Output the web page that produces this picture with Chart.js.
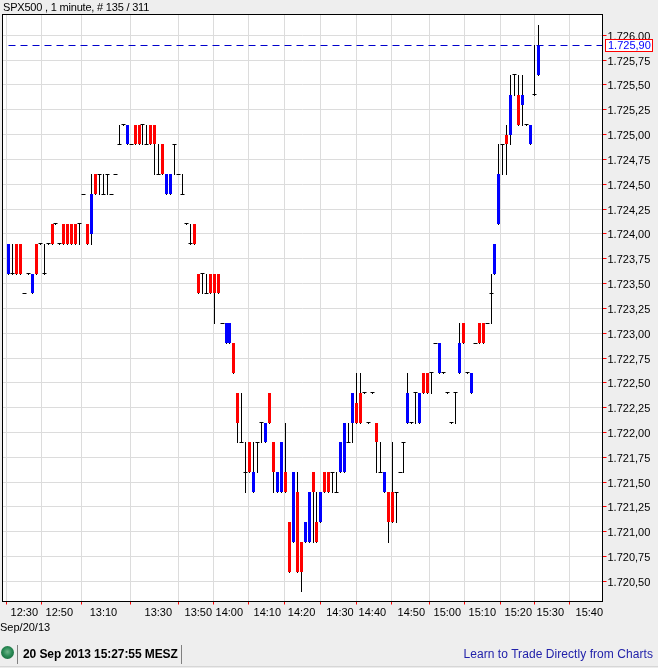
<!DOCTYPE html>
<html>
<head>
<meta charset="utf-8">
<script src="https://cdn.jsdelivr.net/npm/chart.js@4"></script>
<style>
    html, body { margin: 0; padding: 0; background: #eeeeee; }
    #wrap { position: relative; width: 658px; height: 668px; overflow: hidden; font-family: "Liberation Sans", Arial, sans-serif; color: #000; }
    canvas { position: absolute; left: 0; top: 0; }
    .txt { position: absolute; white-space: nowrap; font-size: 11px; line-height: 14px; }
    .sep { position: absolute; top: 645px; width: 1px; height: 19px; background: #808080; }
    #led { position: absolute; left: 1px; top: 646px; width: 13px; height: 13px; border-radius: 50%; background: radial-gradient(circle at 50% 45%, #6fb58a 0%, #2a8a55 45%, #0f5a30 100%); }
    #edge { position: absolute; left: 0; top: 666px; width: 658px; height: 2px; background: linear-gradient(#cccccc, #f6f6f6); }
</style>
</head>
<body>
<div id="wrap">
    <canvas id="myChart" width="658" height="668"></canvas>
    <div class="txt" style="left:3px;top:0px;letter-spacing:-0.2px">SPX500 , 1 minute, # 135 / 311</div>
    <div class="txt" style="left:0px;top:620px">Sep/20/13</div>
    <div id="led"></div>
    <div class="sep" style="left:17px"></div>
    <div class="txt" style="left:23px;top:647px;font-size:12px;font-weight:bold;letter-spacing:-0.08px">20 Sep 2013 15:27:55 MESZ</div>
    <div class="sep" style="left:181px"></div>
    <div class="txt" style="right:5px;top:647px;font-size:12px;color:#2222aa;letter-spacing:0.06px">Learn to Trade Directly from Charts</div>
    <div id="edge"></div>
</div>
<script>
const opens = [
    1723.6, 1723.6, 1723.9, 1723.9, 1723.4, 1723.6, 1723.4, 1723.9, 1723.9, 1723.6,
    1723.9, 1724.1, 1724.1, 1723.9, 1724.1, 1724.1, 1724.1, 1724.1, 1724.1, 1724.4,
    1724.1, 1724.0, 1724.6, 1724.6, 1724.4, 1724.6, 1724.4, 1724.6, 1724.9, 1725.1,
    1724.9, 1724.9, 1725.1, 1725.1, 1725.1, 1724.9, 1725.1, 1725.1, 1724.6, 1724.9,
    1724.4, 1724.4, 1724.9, 1724.6, 1724.4, 1724.1, 1723.9, 1724.1, 1723.6, 1723.6,
    1723.4, 1723.6, 1723.6, 1723.6, 1723.1, 1722.9, 1722.9, 1722.9, 1722.4, 1721.9,
    1721.6, 1721.9, 1721.4, 1721.9, 1722.1, 1721.9, 1722.4, 1721.9, 1721.4, 1721.4,
    1721.6, 1721.1, 1720.9, 1721.4, 1720.9, 1720.9, 1720.9, 1721.6, 1721.1, 1721.1,
    1721.6, 1721.6, 1721.6, 1721.4, 1721.6, 1721.6, 1721.9, 1722.1, 1722.3, 1722.4,
    1722.4, 1722.1, 1722.4, 1722.1, 1721.6, 1721.4, 1721.4, 1721.4, 1721.4, 1721.6,
    1721.9, 1722.1, 1722.1, 1722.4, 1722.1, 1722.6, 1722.6, 1722.6, 1722.9, 1722.6,
    1722.6, 1722.4, 1722.1, 1722.4, 1722.6, 1723.1, 1722.6, 1722.4, 1722.9, 1723.1,
    1723.1, 1723.1, 1723.4, 1723.6, 1724.1, 1724.9, 1725.0, 1725.0, 1725.6, 1725.4,
    1725.3, 1725.1, 1724.9, 1725.4, 1725.6
]
const highs = [
    1723.9, 1723.9, 1723.9, 1723.9, 1723.4, 1723.6, 1723.6, 1723.9, 1723.9, 1723.9,
    1723.9, 1724.1, 1724.1, 1723.9, 1724.1, 1724.1, 1724.1, 1724.1, 1724.1, 1724.4,
    1724.1, 1724.6, 1724.6, 1724.6, 1724.6, 1724.6, 1724.4, 1724.6, 1725.1, 1725.1,
    1725.1, 1724.9, 1725.1, 1725.1, 1725.1, 1725.1, 1725.1, 1725.1, 1724.9, 1724.9,
    1724.6, 1724.6, 1724.9, 1724.6, 1724.6, 1724.1, 1724.1, 1724.1, 1723.6, 1723.6,
    1723.6, 1723.6, 1723.6, 1723.6, 1723.1, 1723.1, 1723.1, 1722.9, 1722.4, 1722.4,
    1721.9, 1721.9, 1721.9, 1721.9, 1722.1, 1722.1, 1722.4, 1721.9, 1721.6, 1721.9,
    1722.1, 1721.1, 1721.6, 1721.6, 1720.9, 1721.1, 1721.4, 1721.6, 1721.4, 1721.4,
    1721.6, 1721.6, 1721.6, 1721.6, 1721.9, 1722.1, 1722.1, 1722.4, 1722.6, 1722.6,
    1722.4, 1722.1, 1722.4, 1722.1, 1721.9, 1721.6, 1721.4, 1721.9, 1721.4, 1721.6,
    1721.9, 1722.6, 1722.1, 1722.4, 1722.4, 1722.6, 1722.6, 1722.6, 1722.9, 1722.9,
    1722.6, 1722.4, 1722.1, 1722.4, 1723.1, 1723.1, 1722.6, 1722.6, 1722.9, 1723.1,
    1723.1, 1723.1, 1723.6, 1723.9, 1724.9, 1724.9, 1725.1, 1725.6, 1725.6, 1725.6,
    1725.6, 1725.1, 1725.1, 1725.9, 1726.1
]
const lows = [
    1723.6, 1723.6, 1723.6, 1723.6, 1723.4, 1723.6, 1723.4, 1723.6, 1723.9, 1723.6,
    1723.9, 1723.9, 1724.1, 1723.9, 1723.9, 1723.9, 1723.9, 1723.9, 1723.9, 1724.4,
    1723.9, 1723.9, 1724.4, 1724.4, 1724.4, 1724.4, 1724.4, 1724.6, 1724.9, 1725.1,
    1724.9, 1724.9, 1724.9, 1724.9, 1724.9, 1724.9, 1724.9, 1724.6, 1724.6, 1724.6,
    1724.4, 1724.4, 1724.6, 1724.6, 1724.4, 1724.1, 1723.9, 1723.9, 1723.4, 1723.4,
    1723.4, 1723.4, 1723.1, 1723.4, 1723.1, 1722.9, 1722.9, 1722.6, 1721.9, 1721.9,
    1721.4, 1721.6, 1721.4, 1721.6, 1721.9, 1721.9, 1722.1, 1721.4, 1721.4, 1721.4,
    1721.4, 1720.6, 1720.9, 1720.6, 1720.4, 1720.9, 1720.9, 1720.9, 1720.9, 1721.1,
    1721.4, 1721.4, 1721.4, 1721.4, 1721.6, 1721.6, 1721.9, 1721.9, 1722.1, 1722.1,
    1722.4, 1722.1, 1722.4, 1721.6, 1721.6, 1721.4, 1720.9, 1721.1, 1721.1, 1721.6,
    1721.6, 1722.1, 1722.1, 1722.1, 1722.1, 1722.4, 1722.4, 1722.4, 1722.9, 1722.6,
    1722.6, 1722.4, 1722.1, 1722.1, 1722.6, 1722.9, 1722.6, 1722.4, 1722.9, 1722.9,
    1722.9, 1723.1, 1723.1, 1723.6, 1724.1, 1724.6, 1724.6, 1724.9, 1725.4, 1725.1,
    1725.1, 1725.1, 1724.9, 1725.4, 1725.6
]
const closes = [
    1723.9, 1723.6, 1723.6, 1723.6, 1723.4, 1723.6, 1723.6, 1723.6, 1723.9, 1723.6,
    1723.9, 1723.9, 1724.1, 1723.9, 1723.9, 1723.9, 1723.9, 1723.9, 1724.1, 1724.4,
    1723.9, 1724.4, 1724.4, 1724.6, 1724.4, 1724.6, 1724.4, 1724.6, 1724.9, 1725.1,
    1725.1, 1724.9, 1724.9, 1724.9, 1725.1, 1724.9, 1724.9, 1724.9, 1724.6, 1724.6,
    1724.6, 1724.6, 1724.9, 1724.6, 1724.4, 1724.1, 1723.9, 1723.9, 1723.4, 1723.6,
    1723.4, 1723.4, 1723.4, 1723.4, 1723.1, 1723.1, 1723.1, 1722.6, 1722.1, 1721.9,
    1721.6, 1721.6, 1721.6, 1721.9, 1722.1, 1722.1, 1722.1, 1721.6, 1721.6, 1721.9,
    1721.4, 1720.6, 1721.6, 1720.6, 1720.6, 1721.1, 1721.4, 1721.4, 1720.9, 1721.4,
    1721.4, 1721.4, 1721.6, 1721.4, 1721.9, 1722.1, 1721.9, 1722.4, 1722.1, 1722.1,
    1722.4, 1722.1, 1722.4, 1721.9, 1721.6, 1721.6, 1721.1, 1721.1, 1721.4, 1721.6,
    1721.9, 1722.4, 1722.1, 1722.4, 1722.4, 1722.4, 1722.4, 1722.6, 1722.9, 1722.9,
    1722.6, 1722.4, 1722.1, 1722.4, 1722.9, 1722.9, 1722.6, 1722.6, 1722.9, 1722.9,
    1722.9, 1723.1, 1723.4, 1723.9, 1724.6, 1724.9, 1724.9, 1725.4, 1725.6, 1725.1,
    1725.4, 1725.1, 1725.1, 1725.4, 1725.9
]

const lastPrice = 1725.9
const priceTicks = [1726, 1725.75, 1725.5, 1725.25, 1725, 1724.75, 1724.5, 1724.25, 1724, 1723.75, 1723.5, 1723.25, 1723, 1722.75, 1722.5, 1722.25, 1722, 1721.75, 1721.5, 1721.25, 1721, 1720.75, 1720.5]
const timeLabels = ['12:30', '12:50', '13:10', '13:30', '13:50', '14:00', '14:10', '14:20', '14:30', '14:40', '14:50', '15:00', '15:10', '15:20', '15:30', '15:40']
// bar number each time label sits on, the sessions have gaps so they are not evenly spaced
const timeSlots = [4, 12.84, 24, 37.88, 48, 55.83, 65.44, 74.1, 83.8, 92, 101.85, 110.95, 119.8, 128.9, 137, 146.85]

const fmtPrice = (v) => {
    let s = v.toFixed(2).replace('.', ',')
    return s.slice(0, 1) + '.' + s.slice(1)
}

const bodies = closes.map((c, i) => ({ x: i, y: [opens[i], c] }))
const wicks = highs.map((h, i) => ({ x: i, y: [lows[i], h] }))
const dashes = closes.map((c, i) => ({ x: i, y: c })).filter((p, i) => opens[i] === p.y)

// keep everything on whole pixels like the original chart
const snapPlugin = {
    id: 'snap',
    beforeDatasetsDraw(chart) {
        chart.data.datasets.forEach((ds, d) => {
            chart.getDatasetMeta(d).data.forEach(el => {
                el.x = Math.floor(el.x) + 0.5
                if (ds.type === 'bar') {
                    el.y = Math.round(el.y)
                    el.base = Math.round(el.base) + (ds.label === 'wick' ? 1 : 0)
                } else {
                    el.y = Math.floor(el.y) + 0.5
                }
            })
        })
    }
}

const framePlugin = {
    id: 'frame',
    beforeDraw(chart) {
        const a = chart.chartArea
        chart.ctx.save()
        chart.ctx.fillStyle = '#ffffff'
        chart.ctx.fillRect(a.left, a.top, a.width, a.height)
        chart.ctx.restore()
    },
    afterDraw(chart) {
        const a = chart.chartArea
        const ctx = chart.ctx
        ctx.save()
        ctx.strokeStyle = '#000000'
        ctx.lineWidth = 1
        ctx.strokeRect(a.left, a.top, a.width, a.height)

        // last price tag on the axis
        const y = Math.floor(chart.scales.y.getPixelForValue(lastPrice)) + 0.5
        ctx.fillStyle = '#ffffff'
        ctx.fillRect(605.5, y - 6, 47, 12)
        ctx.strokeStyle = '#ff0000'
        ctx.strokeRect(605.5, y - 6, 47, 12)
        ctx.fillStyle = '#0000ff'
        ctx.font = '11px "Liberation Sans", Arial, sans-serif'
        ctx.textBaseline = 'middle'
        ctx.fillText(fmtPrice(lastPrice), 608, y + 0.5)
        ctx.restore()
    }
}

new Chart(document.getElementById('myChart'), {
    data: {
        datasets: [
            {
                type: 'bar',
                label: 'wick',
                data: wicks,
                backgroundColor: '#000000',
                barThickness: 1,
                grouped: false,
                inflateAmount: 0,
                order: 4
            },
            {
                type: 'bar',
                label: 'body',
                data: bodies,
                backgroundColor: bodies.map(b => b.y[1] > b.y[0] ? '#0000ff' : '#ff0000'),
                barThickness: 3,
                grouped: false,
                inflateAmount: 0,
                order: 3
            },
            {
                type: 'line',
                label: 'doji',
                data: dashes,
                showLine: false,
                pointStyle: 'line',
                pointRadius: 2,
                pointBorderWidth: 1,
                pointBorderColor: '#000000',
                order: 2
            },
            {
                type: 'line',
                label: 'last',
                data: [{ x: 0, y: lastPrice }, { x: 150.19, y: lastPrice }],
                borderColor: '#0000cc',
                borderWidth: 1,
                borderDash: [7, 5],
                pointRadius: 0,
                order: 1
            }
        ]
    },
    options: {
        responsive: false,
        animation: false,
        events: [],
        layout: { autoPadding: false, padding: { left: 2.5, top: 14.5, right: 0, bottom: 0 } },
        plugins: { legend: { display: false }, tooltip: { enabled: false } },
        scales: {
            x: {
                type: 'linear',
                offset: false,
                min: -1.517,
                max: 150.19,
                afterBuildTicks: (scale) => {
                    scale.ticks = timeSlots.map(v => ({ value: v }))
                },
                afterFit: (scale) => { scale.height = 66.5 },
                grid: { color: '#dcdcdc', lineWidth: 1, tickLength: 3, tickColor: '#ff0000' },
                border: { display: false },
                ticks: {
                    autoSkip: false,
                    maxRotation: 0,
                    padding: 2,
                    color: '#000000',
                    font: { family: '"Liberation Sans", Arial, sans-serif', size: 11 },
                    callback: (v, i) => timeLabels[i]
                }
            },
            y: {
                type: 'linear',
                position: 'right',
                min: 1720.298,
                max: 1726.209,
                afterBuildTicks: (scale) => {
                    scale.ticks = priceTicks.map(v => ({ value: v }))
                },
                afterFit: (scale) => { scale.width = 55.5 },
                grid: { color: '#dcdcdc', lineWidth: 1, tickLength: 4, tickColor: '#ff0000' },
                border: { display: false },
                ticks: {
                    autoSkip: false,
                    padding: 1,
                    labelOffset: 1.5,
                    color: '#000000',
                    font: { family: '"Liberation Sans", Arial, sans-serif', size: 11 },
                    callback: (v) => fmtPrice(v)
                }
            }
        }
    },
    plugins: [framePlugin, snapPlugin]
})
</script>
</body>
</html>
